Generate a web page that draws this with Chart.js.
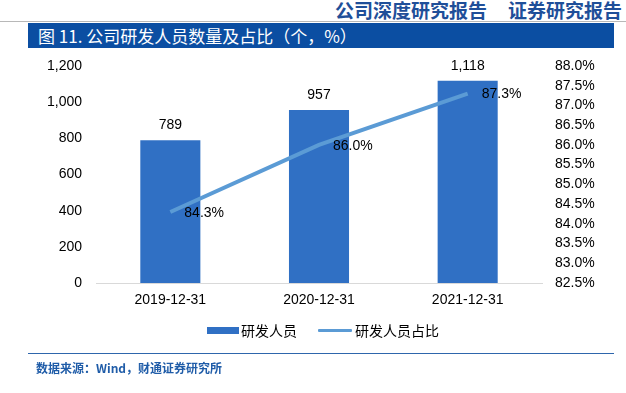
<!DOCTYPE html>
<html>
<head>
<meta charset="utf-8">
<script src="https://cdn.jsdelivr.net/npm/chart.js@4"></script>
<style>
  html, body { margin:0; padding:0; background:#fff; }
  body { width:626px; height:393px; position:relative; overflow:hidden; font-family:"Liberation Sans","Noto Sans CJK SC",sans-serif; }
  #hdr { position:absolute; top:-2px; right:4px; font-family:"Noto Sans CJK SC",sans-serif; font-weight:bold; font-size:19px; color:#1f4f99; white-space:nowrap; line-height:24px; }
  #hdr span { margin-left:21px; }
  #hline { position:absolute; left:0; top:21px; width:626px; height:1px; background:#b8b8b8; }
  #title { position:absolute; left:28px; top:23px; width:586px; height:25px; background:#0b4ea2; color:#fff; font-family:"Noto Sans CJK SC",sans-serif; font-size:17px; line-height:25px; padding-left:10px; box-sizing:border-box; white-space:nowrap; }
  #chart { position:absolute; left:0; top:0; }
  .lg { position:absolute; font-family:"Noto Sans CJK SC",sans-serif; font-size:14px; color:#000; line-height:16px; white-space:nowrap; }
  #sline { position:absolute; left:28px; top:353px; width:586px; height:1px; background:#2e66ac; }
  #src { position:absolute; left:36px; top:360px; font-family:"Noto Sans CJK SC",sans-serif; font-weight:bold; font-size:12px; color:#1f5ca8; line-height:16px; white-space:nowrap; }
</style>
</head>
<body>
<div id="hdr">公司深度研究报告<span>证券研究报告</span></div>
<div id="hline"></div>
<div id="title">图 11. 公司研发人员数量及占比（个，%）</div>
<canvas id="chart" width="626" height="393"></canvas>
<div id="lg1sw" style="position:absolute;left:207px;top:327px;width:32px;height:7px;background:#3070c4;"></div>
<div class="lg" style="left:241px;top:322px;">研发人员</div>
<div id="lg2sw" style="position:absolute;left:318px;top:329px;width:34px;height:3px;background:#5b9bd5;border-radius:1px;"></div>
<div class="lg" style="left:355px;top:322px;">研发人员占比</div>
<div id="sline"></div>
<div id="src">数据来源：Wind，财通证券研究所</div>
<script>
const categories = ['2019-12-31', '2020-12-31', '2021-12-31'];
const staffCount = [789, 957, 1118];
const staffRatio = [84.3, 86.0, 87.3];
const leftTicks = { min: 0, max: 1200, step: 200 };
const rightTicks = { min: 82.5, max: 88.0, step: 0.5 };

const labelPlugin = {
  id: 'valueLabels',
  afterDatasetsDraw(chart) {
    const ctx = chart.ctx;
    ctx.save();
    ctx.font = '14px "Liberation Sans", Arial, sans-serif';
    ctx.fillStyle = '#000';
    const barMeta = chart.getDatasetMeta(1);
    barMeta.data.forEach((el, i) => {
      ctx.textAlign = 'center';
      ctx.textBaseline = 'middle';
      ctx.fillText(staffCount[i].toLocaleString('en-US'), el.x, el.y - 15);
    });
    const lineMeta = chart.getDatasetMeta(0);
    lineMeta.data.forEach((el, i) => {
      ctx.textAlign = 'left';
      ctx.textBaseline = 'middle';
      ctx.fillText(staffRatio[i].toFixed(1) + '%', el.x + 14, el.y + 1);
    });
    ctx.restore();
  }
};

new Chart(document.getElementById('chart'), {
  data: {
    labels: categories,
    datasets: [
      {
        type: 'line',
        label: '研发人员占比',
        data: staffRatio,
        yAxisID: 'y1',
        borderColor: '#5b9bd5',
        borderWidth: 4,
        pointRadius: 0,
        tension: 0,
        fill: false,
        order: 1
      },
      {
        type: 'bar',
        label: '研发人员',
        data: staffCount,
        yAxisID: 'y',
        backgroundColor: '#3070c4',
        categoryPercentage: 1,
        barPercentage: 0.404,
        order: 2
      }
    ]
  },
  options: {
    responsive: false,
    animation: false,
    layout: { autoPadding: false, padding: { top: 66, left: 0, right: 0, bottom: 80 } },
    plugins: { legend: { display: false }, tooltip: { enabled: false } },
    scales: {
      x: {
        grid: { display: true, drawTicks: false, color: 'rgba(0,0,0,0)' },
        border: { display: true, color: '#d9d9d9', width: 1 },
        ticks: { padding: 9, color: '#000', font: { family: '"Liberation Sans", Arial, sans-serif', size: 14 }, maxRotation: 0 },
        afterFit(s) { s.height = 30; }
      },
      y: {
        position: 'left',
        min: leftTicks.min, max: leftTicks.max,
        grid: { display: false, drawTicks: false },
        border: { display: false },
        ticks: {
          stepSize: leftTicks.step, padding: 14, color: '#000', autoSkip: false,
          font: { family: '"Liberation Sans", Arial, sans-serif', size: 14 },
          callback: v => Number(v).toLocaleString('en-US')
        },
        afterFit(s) { s.width = 96; }
      },
      y1: {
        position: 'right',
        min: rightTicks.min, max: rightTicks.max,
        grid: { display: false, drawTicks: false },
        border: { display: false },
        ticks: {
          stepSize: rightTicks.step, padding: 13, color: '#000', autoSkip: false,
          font: { family: '"Liberation Sans", Arial, sans-serif', size: 14 },
          callback: v => Number(v).toFixed(1) + '%'
        },
        afterFit(s) { s.width = 84; }
      }
    }
  },
  plugins: [labelPlugin]
});
</script>
</body>
</html>
